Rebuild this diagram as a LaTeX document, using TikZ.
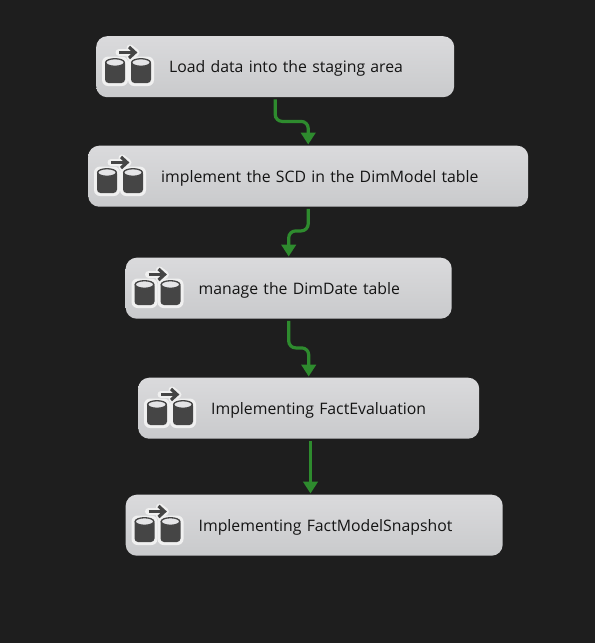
\documentclass[tikz,border=0pt]{standalone}
\usepackage{fontspec}
\setmainfont{Open Sans}
\usetikzlibrary{arrows.meta}
\definecolor{bgdark}{HTML}{1E1E1E}
\definecolor{boxtop}{HTML}{DADADC}
\definecolor{boxbot}{HTML}{C9CACC}
\definecolor{flow}{HTML}{2E8B2E}
\definecolor{icondark}{HTML}{454545}
\definecolor{textdark}{HTML}{141414}
\newcommand{\tasklabel}[1]{\hspace*{73pt}\smash{\raisebox{-6pt}{#1}}}
\tikzset{
  taskbox/.style={rounded corners=11pt,top color=boxtop,bottom color=boxbot,middle color=boxbot!50!boxtop,
    minimum height=61pt,inner ysep=0pt,inner xsep=0pt,anchor=north west,
    font=\fontsize{15.8pt}{18pt}\selectfont,text=textdark,align=left},
  flowline/.style={draw=flow,line width=3.2pt,rounded corners=7pt,-{Triangle[length=12pt,width=14.5pt]},shorten >=1pt,shorten <=2pt},
  pics/dbicon/.style={code={
    \foreach \cx in {0,26}{
      \fill[white!94!black,rounded corners=6pt] (\cx-3,8.5) rectangle (\cx+23,38);
    }
    \draw[white!94!black,line width=7pt,line cap=round,line join=round] (14,4.5)--(30,4.5) (25,0)--(31,4.5)--(25,9);
    \foreach \cx in {0,26}{
      \fill[icondark,rounded corners=3.5pt] (\cx,12) rectangle (\cx+20,35);
      \fill[boxtop!70!white,draw=icondark,line width=1.3pt] (\cx+10,14.5) ellipse [x radius=9.3pt,y radius=3.8pt];
    }
    \draw[icondark,line width=3.2pt,line join=miter] (14,4.5)--(29,4.5);
    \draw[icondark,line width=3.2pt,line join=miter] (24,-1)--(30,4.5)--(24,10);
  }}
}
\begin{document}
\begin{tikzpicture}[x=1pt,y=-1pt]
\useasboundingbox (0,0) rectangle (595,643);
\fill[bgdark] (0,0) rectangle (595,643);
\node[taskbox,minimum width=358pt,text width=358pt] (a) at (96,36) {\tasklabel{Load data into the staging area}};
\node[taskbox,minimum width=440pt,text width=440pt] (b) at (88,145.5) {\tasklabel{implement the SCD in the DimModel table}};
\node[taskbox,minimum width=326pt,text width=326pt] (c) at (125.5,257.5) {\tasklabel{manage the DimDate table}};
\node[taskbox,minimum width=341pt,text width=341pt] (d) at (138,377.5) {\tasklabel{Implementing FactEvaluation}};
\node[taskbox,minimum width=377pt,text width=377pt] (e) at (125.5,494.5) {\tasklabel{Implementing FactModelSnapshot}};
\pic at (105,48) {dbicon};
\pic at (97,158) {dbicon};
\pic at (134.5,270) {dbicon};
\pic at (147,390) {dbicon};
\pic at (134.5,507) {dbicon};
\draw[flowline] (a.south) -- ++(0,24) -| (b.north);
\draw[flowline] (b.south) -- ++(0,24) -| (c.north);
\draw[flowline] (c.south) -- ++(0,29) -| (d.north);
\draw[flowline] (d.south -| 310.5,0) -- (e.north -| 310.5,0);
\end{tikzpicture}
\end{document}
